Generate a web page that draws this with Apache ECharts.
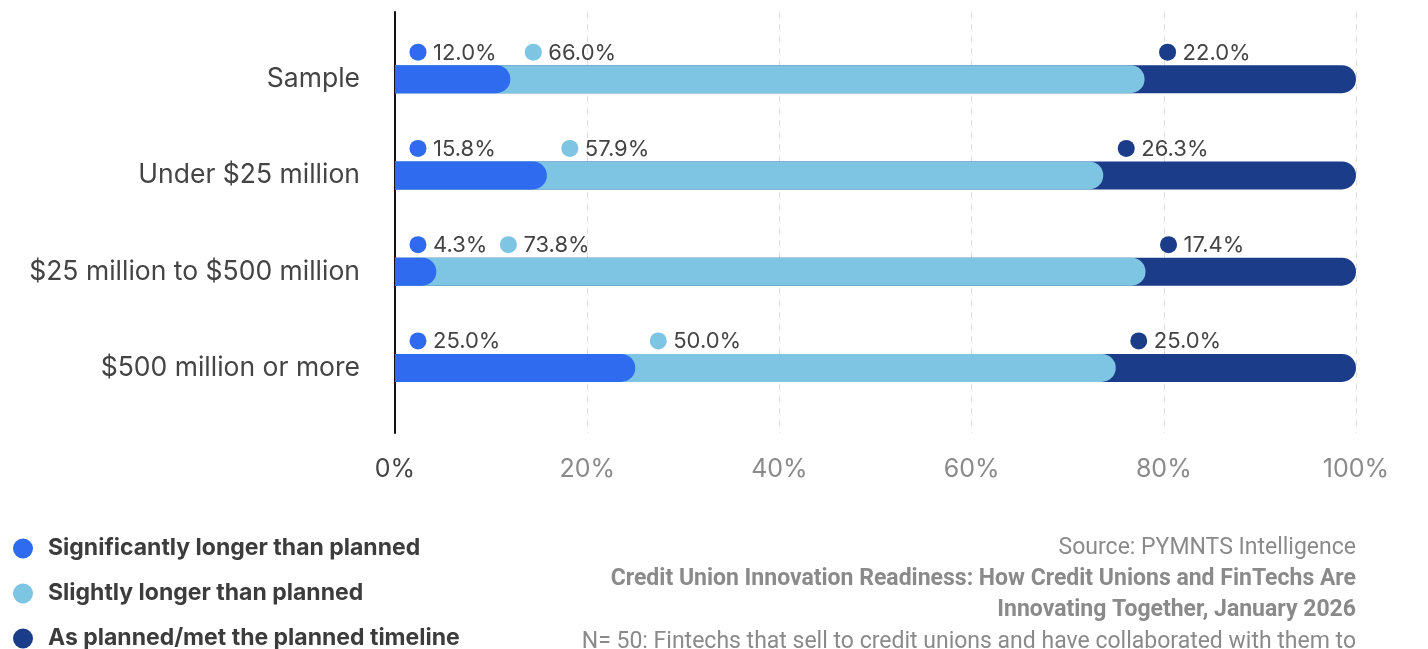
<!DOCTYPE html>
<html>
<head>
<meta charset="utf-8">
<title>Project timelines vs. plan</title>
<script src="https://cdn.jsdelivr.net/npm/echarts@6/dist/echarts.min.js"></script>
<style>
  html, body { margin: 0; padding: 0; background: #ffffff; }
  #chart { width: 1428px; height: 649px; }
</style>
</head>
<body>
<div id="chart"></div>
<script>
// Revenue-size segments (rows of the chart)
const categories = ['Sample', 'Under $25 million', '$25 million to $500 million', '$500 million or more'];

// Share of respondents per timeline outcome, in percent
const significantlyLonger = [12.0, 15.8, 4.3, 25.0];
const slightlyLonger = [66.0, 57.9, 73.8, 50.0];
const asPlanned = [22.0, 26.3, 17.4, 25.0];

const seriesNames = [
  'Significantly longer than planned',
  'Slightly longer than planned',
  'As planned/met the planned timeline'
];
const seriesColors = ['#2f6bef', '#7ec4e3', '#1b3c88'];

const tickValues = [0, 20, 40, 60, 80, 100];

const footerLines = [
  { text: 'Source: PYMNTS Intelligence', bold: false },
  { text: 'Credit Union Innovation Readiness: How Credit Unions and FinTechs Are', bold: true },
  { text: 'Innovating Together, January 2026', bold: true },
  { text: 'N= 50: Fintechs that sell to credit unions and have collaborated with them to', bold: false }
];

const FONT = 'Inter, "Noto Sans", sans-serif';
const FOOT_FONT = 'Roboto, "Liberation Sans", sans-serif';
const BAR_H = 28;
const LABEL_FONT = '22px ' + FONT;

const allValues = [significantlyLonger, slightlyLonger, asPlanned];

// Cumulative start of each segment per row
const starts = allValues.map((vals, k) => categories.map((c, i) => {
  let s = 0;
  for (let j = 0; j < k; j++) s += allValues[j][i];
  return s;
}));

function labelText(k, i) {
  return allValues[k][i].toFixed(1) + '%';
}

const measureCtx = document.createElement('canvas').getContext('2d');
function textWidth(str) {
  measureCtx.font = LABEL_FONT;
  return measureCtx.measureText(str).width;
}

// Dot position of a segment's label: just past the segment start,
// pushed right when it would run into the previous segment's label.
function labelDotX(api, k, i) {
  let x = api.coord([starts[k][i], i])[0] + 23;
  if (k > 0) {
    const prev = labelDotX(api, k - 1, i);
    const prevEnd = prev + 15 + textWidth(labelText(k - 1, i));
    x = Math.max(x, prevEnd + 21);
  }
  return x;
}

// Each segment is drawn from 0 to its cumulative end with a rounded right end,
// later segments sitting behind earlier ones. The last segment fills the track.
function segmentData(k) {
  return categories.map((c, i) => {
    const start = starts[k][i];
    const end = k === allValues.length - 1 ? 100 : start + allValues[k][i];
    return [i, start, end, allValues[k][i], k];
  });
}

function makeRender(color) {
  return function (params, api) {
    const cat = api.value(0);
    const end = api.value(2);
    const k = api.value(4);
    const p0 = api.coord([0, cat]);
    const pE = api.coord([end, cat]);
    const labelY = p0[1] - 27;
    const dotX = labelDotX(api, k, cat);
    return {
      type: 'group',
      children: [
        {
          type: 'rect',
          shape: { x: p0[0], y: p0[1] - BAR_H / 2, width: pE[0] - p0[0], height: BAR_H, r: [0, BAR_H / 2, BAR_H / 2, 0] },
          style: { fill: color }
        },
        {
          type: 'circle',
          shape: { cx: dotX, cy: labelY, r: 8.5 },
          style: { fill: color }
        },
        {
          type: 'text',
          style: {
            text: labelText(k, cat),
            x: dotX + 15,
            y: labelY + 1,
            verticalAlign: 'middle',
            align: 'left',
            fill: '#444444',
            font: LABEL_FONT
          }
        }
      ]
    };
  };
}

// Draw back-to-front so the first segment ends on top
const order = [2, 1, 0];
const series = order.map(k => ({
  name: seriesNames[k],
  type: 'custom',
  xAxisIndex: 1,
  yAxisIndex: 1,
  itemStyle: { color: seriesColors[k] },
  encode: { x: [1, 2], y: 0 },
  renderItem: makeRender(seriesColors[k]),
  data: segmentData(k)
}));

const chart = echarts.init(document.getElementById('chart'), null, { renderer: 'canvas' });

const footerGraphics = footerLines.map((line, i) => ({
  type: 'text',
  x: 1356,
  y: 548 + i * 31.3,
  style: {
    text: line.text,
    fill: '#8a8a8a',
    font: (line.bold ? 'bold ' : '') + '23px ' + FOOT_FONT,
    align: 'right',
    verticalAlign: 'middle'
  }
}));

chart.setOption({
  backgroundColor: '#ffffff',
  animation: false,
  textStyle: { fontFamily: FONT },
  grid: [
    { left: 395, right: 72, top: 12, bottom: 216 },
    { left: 395, right: 72, top: 31, bottom: 233 }
  ],
  xAxis: [
    {
      gridIndex: 0,
      type: 'value',
      min: 0,
      max: 100,
      interval: 20,
      axisLine: { show: false },
      axisTick: { show: false },
      splitLine: { show: true, lineStyle: { color: '#dedede', width: 1, type: [6, 6] } },
      axisLabel: {
        margin: 24,
        fontSize: 25,
        fontFamily: FONT,
        formatter: v => tickValues.includes(v) ? v + '%' : '',
        color: (v) => (Number(v) === 0 ? '#444444' : '#8a8a8a')
      }
    },
    { gridIndex: 1, type: 'value', min: 0, max: 100, show: false }
  ],
  yAxis: [
    {
      gridIndex: 0,
      type: 'value',
      min: 0,
      max: 1,
      axisLine: { show: true, onZero: false, lineStyle: { color: '#111111', width: 2 } },
      axisTick: { show: false },
      axisLabel: { show: false },
      splitLine: { show: false }
    },
    {
      gridIndex: 1,
      type: 'category',
      inverse: true,
      data: categories,
      axisLine: { show: false },
      axisTick: { show: false },
      splitLine: { show: false },
      axisLabel: { margin: 35, fontSize: 26.5, color: '#444444', fontFamily: FONT, padding: [4, 0, 0, 0] }
    }
  ],
  legend: {
    data: seriesNames,
    orient: 'vertical',
    left: 8,
    top: 532,
    height: 150,
    itemWidth: 20,
    itemHeight: 20,
    itemGap: 22,
    icon: 'circle',
    selectedMode: false,
    textStyle: { fontSize: 23, fontWeight: 'bold', color: '#3c3c3c', fontFamily: FONT, padding: [0, 0, 0, 10] }
  },
  graphic: footerGraphics,
  series: series
});
</script>
</body>
</html>
